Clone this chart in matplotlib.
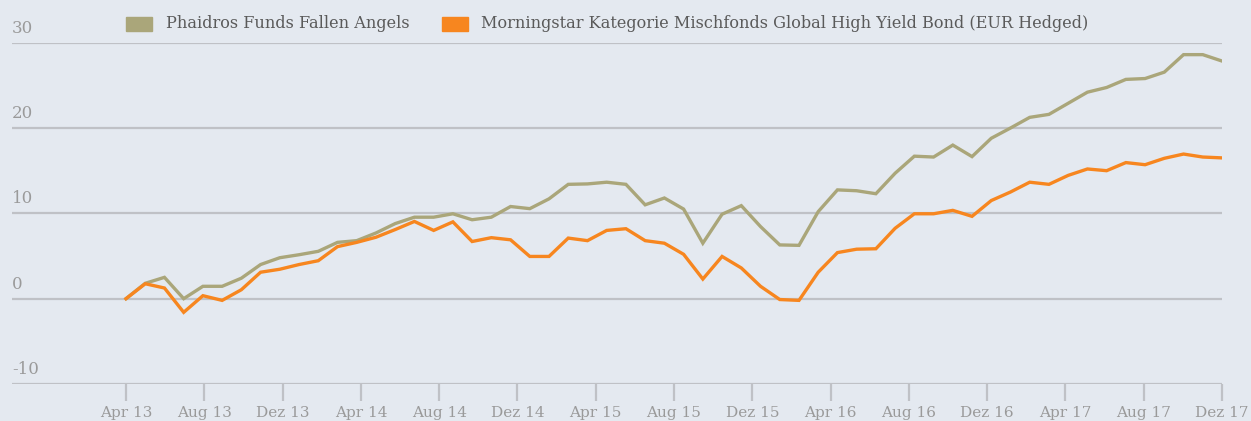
import numpy as np
import matplotlib
matplotlib.use("Agg")
import matplotlib.pyplot as plt
from matplotlib.patches import Rectangle
from matplotlib.transforms import blended_transform_factory

# Wertentwicklung in % (monatlich, Mrz 13 - Dez 17)
phaidros = [0.0, 1.8, 2.5, 0.0, 1.45, 1.45, 2.4, 4.0, 4.8, 5.15,
            5.55, 6.6, 6.8, 7.7, 8.8, 9.55, 9.55, 9.95, 9.25, 9.55,
            10.8, 10.55, 11.7, 13.4, 13.45, 13.65, 13.4, 11.0, 11.8, 10.5,
            6.5, 9.9, 10.9, 8.45, 6.3, 6.25, 10.2, 12.75, 12.65, 12.3,
            14.7, 16.7, 16.6, 18.0, 16.65, 18.8, 20.0, 21.25, 21.6, 22.9,
            24.2, 24.75, 25.7, 25.8, 26.55, 28.6, 28.6, 27.85]
morningstar = [0.0, 1.75, 1.25, -1.6, 0.35, -0.2, 1.05, 3.1, 3.45, 4.0,
               4.45, 6.1, 6.6, 7.2, 8.1, 9.05, 8.0, 9.0, 6.7, 7.15,
               6.9, 4.95, 4.95, 7.1, 6.8, 8.0, 8.2, 6.8, 6.5, 5.2,
               2.3, 4.95, 3.6, 1.45, -0.1, -0.2, 3.1, 5.4, 5.8, 5.85,
               8.25, 9.95, 9.95, 10.35, 9.65, 11.5, 12.5, 13.65, 13.4, 14.45,
               15.2, 15.0, 15.95, 15.7, 16.45, 16.95, 16.6, 16.5]
tick_labels = ["Apr 13", "Aug 13", "Dez 13", "Apr 14", "Aug 14", "Dez 14", "Apr 15",
               "Aug 15", "Dez 15", "Apr 16", "Aug 16", "Dez 16", "Apr 17", "Aug 17", "Dez 17"]
y_ticks = [30, 20, 10, 0, -10]
names = ["Phaidros Funds Fallen Angels",
         "Morningstar Kategorie Mischfonds Global High Yield Bond (EUR Hedged)"]

bg = "#e4e9f0"
grid_c = "#bfc1c6"
olive = "#aaa67a"
orange = "#f7861f"
W, H = 1251, 421

fig = plt.figure(figsize=(W / 100, H / 100), dpi=100, facecolor=bg)
# Achsenbereich in Pixeln: x 12..1222, y 42.7..384
ax = fig.add_axes([12 / W, 1 - 384 / H, 1210 / W, (384 - 42.7) / H])
ax.set_facecolor(bg)
for s in ax.spines.values():
    s.set_visible(False)

x = np.arange(len(phaidros))
ax.set_xlim(-(126 - 12) / (1096 / 57), len(x) - 1)
ax.set_ylim(-10, 30)

for v in y_ticks:
    ax.axhline(v, color=grid_c, lw=1.6, zorder=1)

ax.plot(x, phaidros, color=olive, lw=2.4, zorder=3, solid_joinstyle="miter")
ax.plot(x, morningstar, color=orange, lw=2.4, zorder=4, solid_joinstyle="miter")

ax.set_yticks([])
ax.set_xticks(np.linspace(0, len(x) - 1, len(tick_labels)))
ax.set_xticklabels(tick_labels, family="DejaVu Serif", fontsize=11, color="#9a9a9a")
ax.tick_params(axis="x", length=12, width=1.6, color=grid_c, pad=4)

tr = blended_transform_factory(ax.transAxes, ax.transData)
for v in y_ticks:
    ax.text(0, v + 0.7, str(v), transform=tr, ha="left", va="bottom",
            family="DejaVu Serif", fontsize=12, color="#9a9a9a")

# Legende
fig.add_artist(Rectangle((126 / W, 1 - 31 / H), 26 / W, 14 / H,
                         transform=fig.transFigure, color=olive))
fig.text(166 / W, 1 - 24 / H, names[0], ha="left", va="center",
         family="DejaVu Serif", fontsize=11.6, color="#5a5a5a")
fig.add_artist(Rectangle((442 / W, 1 - 31 / H), 26 / W, 14 / H,
                         transform=fig.transFigure, color=orange))
fig.text(481 / W, 1 - 24 / H, names[1], ha="left", va="center",
         family="DejaVu Serif", fontsize=11.6, color="#5a5a5a")

fig.savefig("out.png", dpi=100, facecolor=bg)
